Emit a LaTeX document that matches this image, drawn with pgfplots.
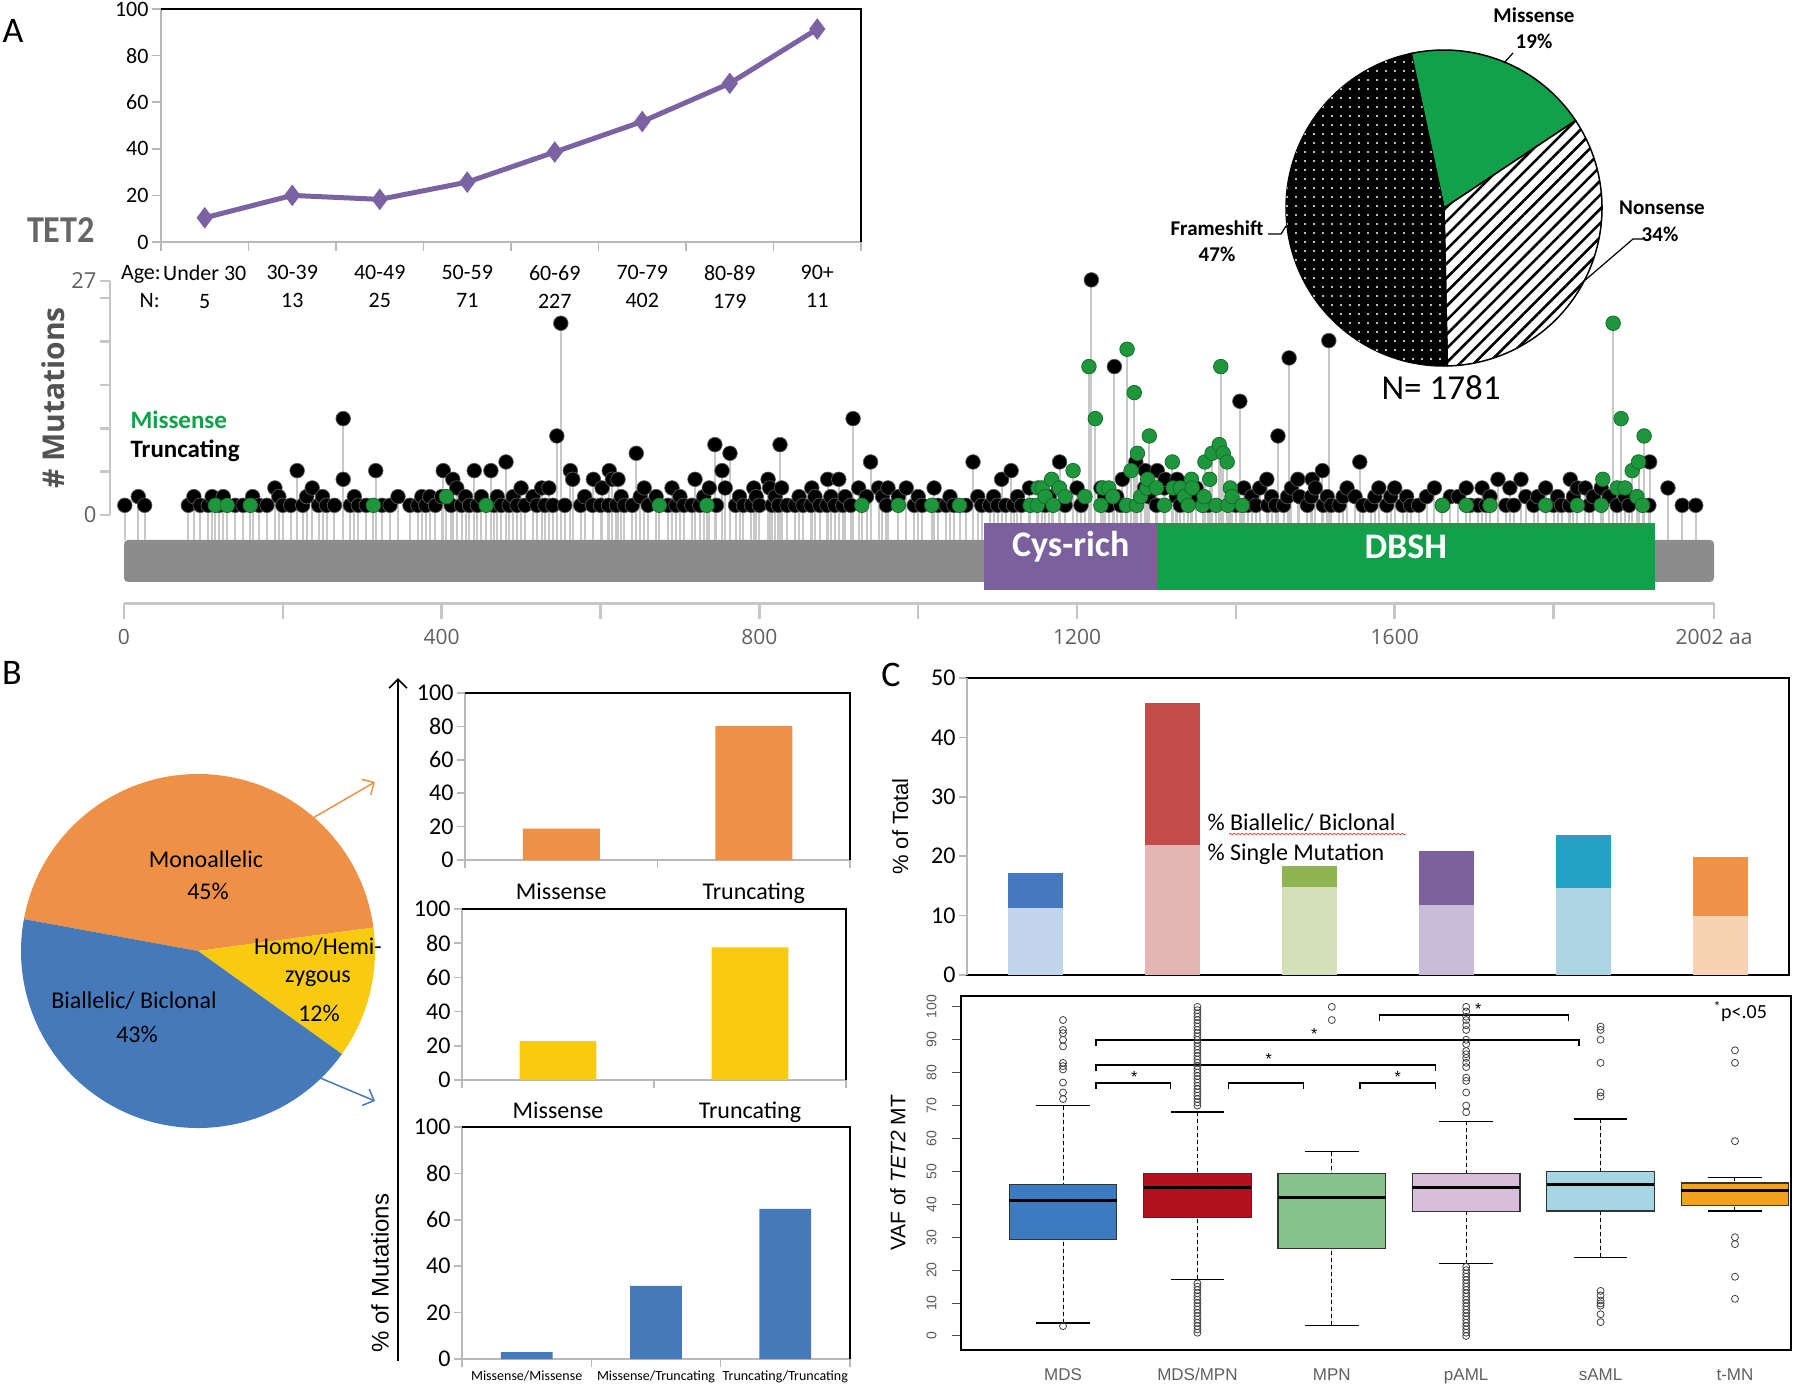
\documentclass[border=0pt]{standalone}
\usepackage{fontspec}
\setmainfont{Carlito}
\newfontfamily\arial{Liberation Sans}
\newfontfamily\osans{Open Sans}
\usepackage{pgfplots}
\usepackage{pgfplotstable}
\pgfplotsset{compat=1.18}
\usepgfplotslibrary{statistics}
\usetikzlibrary{patterns.meta,arrows.meta,decorations.pathmorphing}
\newcommand\fs[1]{\fontsize{#1}{#1}\selectfont}

\definecolor{lpurple}{RGB}{122,98,163}
\definecolor{pgreen}{RGB}{18,160,74}
\definecolor{dompurple}{RGB}{123,96,158}
\definecolor{bargray}{RGB}{140,140,140}
\definecolor{stemgray}{RGB}{200,200,200}
\definecolor{ballgreen}{RGB}{30,150,60}
\definecolor{bor}{RGB}{238,145,70}
\definecolor{byel}{RGB}{249,203,16}
\definecolor{bblue}{RGB}{70,121,186}
\definecolor{mdsL}{RGB}{195,213,236}\definecolor{mdsD}{RGB}{70,120,189}
\definecolor{mpmL}{RGB}{228,181,181}\definecolor{mpmD}{RGB}{196,77,75}
\definecolor{mpnL}{RGB}{211,224,184}\definecolor{mpnD}{RGB}{143,181,83}
\definecolor{pamlL}{RGB}{201,188,216}\definecolor{pamlD}{RGB}{125,97,154}
\definecolor{samlL}{RGB}{172,212,226}\definecolor{samlD}{RGB}{34,163,196}
\definecolor{tmnL}{RGB}{247,211,179}\definecolor{tmnD}{RGB}{238,147,71}
\definecolor{bMDS}{RGB}{61,123,192}\definecolor{bMPM}{RGB}{178,18,30}
\definecolor{bMPN}{RGB}{135,196,140}\definecolor{bPAML}{RGB}{216,190,216}
\definecolor{bSAML}{RGB}{166,213,228}\definecolor{bTMN}{RGB}{241,163,27}

\pgfplotsset{every axis/.append style={/pgf/number format/assume math mode=true}}

\pgfplotstableread{
x c
1 1
18 2
26 1
81 1
88 2
96 1
106 1
111 2
120 1
125 2
140 1
150 1
162 2
170 1
180 1
190 3
195 2
200 1
210 1
218 5
225 1
230 2
237 3
245 1
250 2
255 1
265 1
276 11
276 4
285 1
290 2
295 1
305 1
317 5
325 1
335 1
345 2
360 1
370 1
375 2
380 1
385 2
392 1
400 2
402 5
412 1
414 4
419 3
425 1
430 2
435 1
441 5
445 1
450 2
462 5
466 1
470 2
475 1
481 6
485 1
490 2
495 1
500 3
505 1
515 2
520 1
526 3
530 1
535 3
540 1
545 9
550 22
555 1
562 5
565 4
575 1
580 2
590 1
591 4
600 1
602 3
610 1
611 5
615 4
620 1
622 4
626 2
630 1
640 1
645 7
650 2
655 3
660 1
670 2
685 1
690 3
695 1
700 2
705 1
715 1
719 4
725 1
730 2
737 3
744 8
746 1
753 5
757 3
763 7
770 1
775 2
780 1
790 1
793 3
796 2
800 1
811 4
813 3
816 1
820 2
824 1
826 8
828 3
835 1
845 1
850 2
855 1
865 1
866 3
870 2
876 1
885 1
886 4
890 2
895 1
900 4
905 1
908 2
915 1
918 11
925 3
935 2
940 6
950 3
955 2
960 1
962 3
975 2
985 3
995 1
1000 2
1005 1
1020 3
1025 1
1035 1
1040 2
1045 1
1060 1
1069 6
1075 2
1080 1
1090 1
1095 2
1100 1
1105 4
1110 1
1117 5
1120 1
1125 2
1130 1
1140 3
1160 1
1165 2
1177 3
1178 6
1185 1
1200 3
1205 1
1218 27
1230 3
1235 2
1240 1
1247 17
1250 2
1255 1
1257 4
1274 6
1285 3
1286 5
1290 2
1300 1
1301 5
1310 3
1311 4
1325 2
1326 4
1330 1
1345 2
1350 3
1365 1
1400 1
1405 13
1410 3
1415 1
1420 2
1425 1
1430 3
1439 4
1440 1
1445 2
1450 1
1453 9
1460 1
1465 2
1467 18
1470 3
1478 4
1480 2
1490 1
1495 2
1496 4
1500 3
1509 5
1510 1
1515 2
1517 20
1520 1
1530 1
1535 2
1540 3
1550 2
1556 6
1560 1
1570 1
1575 2
1580 3
1590 1
1595 2
1600 3
1610 1
1615 2
1620 1
1630 1
1640 2
1650 3
1660 1
1670 2
1680 2
1690 3
1695 1
1705 1
1710 3
1715 1
1720 2
1730 4
1740 1
1745 3
1750 1
1759 4
1765 2
1775 1
1780 2
1790 3
1800 1
1805 2
1810 1
1820 1
1821 4
1825 2
1830 3
1840 3
1845 1
1850 2
1860 3
1870 2
1880 1
1890 2
1895 1
1920 1
1921 6
1944 3
1962 1
1979 1
}\blk

\pgfplotstableread{
x c
115 1
130 1
159 1
314 1
406 2
456 1
674 1
734 1
929 1
975 1
1017 1
1052 1
1141 1
1150 1
1151 3
1156 3
1160 2
1168 4
1170 1
1178 3
1185 2
1195 5
1210 2
1215 17
1223 11
1230 1
1233 3
1240 3
1245 2
1262 1
1263 19
1268 5
1272 14
1275 1
1276 7
1280 2
1288 3
1289 4
1291 9
1300 3
1310 1
1320 6
1321 3
1330 3
1335 2
1340 1
1344 4
1345 3
1358 1
1360 2
1361 6
1367 4
1370 7
1375 1
1379 8
1381 17
1384 7
1389 6
1390 1
1393 3
1395 2
1408 1
1660 1
1690 1
1720 1
1790 1
1830 1
1860 1
1862 4
1875 22
1880 3
1885 11
1890 3
1899 5
1905 2
1907 6
1912 1
1914 9
}\grn

\begin{document}
\begin{tikzpicture}
\path[use as bounding box] (0pt,0pt) rectangle (1800pt,-1385pt);

% ---------- Panel A: lollipop y axis ----------
\begin{axis}[scale only axis, anchor=south west, at={(110pt,-515pt)},
  width=1pt, height=234.1pt, xmin=0, xmax=1, ymin=0, ymax=27,
  axis x line=none, axis y line=left,
  y axis line style={-, draw=gray!45, line width=2.5pt},
  ytick={0,5,10,15,20,25,27}, yticklabels={0,,,,,,27},
  tick align=outside, major tick length=10pt,
  y tick style={draw=gray!45, line width=2.5pt},
  yticklabel style={font=\osans\fs{22}, text=gray!75!black},
  ylabel={\# Mutations},
  ylabel style={font=\osans\bfseries\fs{30}, text=gray!65!black}]
\end{axis}

% ---------- Panel A: lollipop ----------
\begin{axis}[scale only axis, anchor=south west, at={(124pt,-603pt)},
  width=1590pt, height=323.1pt, xmin=0, xmax=2002, ymin=-7.27, ymax=30,
  axis x line*=bottom, axis y line=none,
  x axis line style={-, draw=gray!45, line width=3pt},
  xtick={0,400,800,1200,1600,2002}, xticklabels={0,400,800,1200,1600,2002 aa},
  minor xtick={200,600,1000,1400,1800},
  tick align=outside, major tick length=16pt, minor tick length=16pt,
  x tick style={draw=gray!45, line width=2.5pt},
  xticklabel style={font=\osans\fs{21}, text=gray!75!black, yshift=-7pt},
  clip=false]
\fill[bargray, rounded corners=4pt] (axis cs:0,0) rectangle (axis cs:2002,-4.84);
\addplot[ycomb, draw=stemgray, line width=2pt, mark=none] table[x=x, y expr=\thisrow{c}+3] \blk;
\addplot[ycomb, draw=stemgray, line width=2pt, mark=none] table[x=x, y expr=\thisrow{c}+3] \grn;
\fill[dompurple] (axis cs:1083,1.96) rectangle (axis cs:1301,-5.77);
\fill[pgreen] (axis cs:1301,1.96) rectangle (axis cs:1928,-5.77);
\node[font=\bfseries\fs{36}, text=white] at (axis cs:1192,-0.8) {Cys-rich};
\node[font=\bfseries\fs{36}, text=white] at (axis cs:1614,-0.8) {DBSH};
\addplot[only marks, mark=*, mark size=7.3pt, mark options={fill=black, draw=gray!70!black, line width=0.7pt}] table[x=x, y expr=\thisrow{c}+3] \blk;
\addplot[only marks, mark=*, mark size=7.3pt, mark options={fill=ballgreen, draw=ballgreen!70!black, line width=0.7pt}] table[x=x, y expr=\thisrow{c}+3] \grn;
\end{axis}
\node[anchor=west, font=\bfseries\fs{25}, text=pgreen] at (127pt,-420pt) {Missense};
\node[anchor=west, font=\bfseries\fs{25}] at (127pt,-451pt) {Truncating};
\node[font=\bfseries\fs{38}, text=gray!80!black, xscale=0.9] at (61pt,-230pt) {TET2};

% ---------- Panel A: age line chart ----------
\begin{axis}[scale only axis, anchor=south west, at={(161pt,-242pt)},
  width=700pt, height=233pt, xmin=0.5, xmax=8.5, ymin=0, ymax=100,
  axis line style={draw=gray!55, line width=1.6pt},
  xtick={0.5,1.5,...,8.5}, xticklabels={},
  extra x ticks={1,2,3,4,5,6,7,8},
  extra x tick labels={{Under 30\\5},{30-39\\13},{40-49\\25},{50-59\\71},{60-69\\227},{70-79\\402},{80-89\\179},{90+\\11}},
  extra x tick style={tick style={draw=none}},
  xticklabel style={align=center, font=\fontsize{22}{28}\selectfont, yshift=-11pt},
  ytick={0,20,...,100}, yticklabel style={font=\fs{22}},
  tick align=outside, xtick pos=bottom, ytick pos=left,
  major tick length=9pt,
  tick style={draw=gray!55, line width=1.6pt},
  clip=false]
\addplot[color=lpurple, line width=5pt, mark=diamond*, mark size=10pt, mark options={fill=lpurple, line width=1pt}]
  coordinates {(1,10.4) (2,20.0) (3,18.3) (4,25.7) (5,38.6) (6,51.7) (7,68.1) (8,91.4)};
\draw[black, line width=1.8pt] (rel axis cs:0,1) -- (rel axis cs:1,1) -- (rel axis cs:1,0);
\end{axis}
\node[anchor=base east, font=\fs{22}, inner sep=0pt] at (161pt,-279pt) {Age:};
\node[anchor=base east, font=\fs{22}, inner sep=0pt] at (160pt,-307pt) {N:};

% ---------- Panel A: pie ----------
\pgfmathsetmacro\aA{102}
\pgfmathsetmacro\aB{\aA-19*3.6}
\pgfmathsetmacro\aC{\aB-34*3.6}
\pgfmathsetmacro\aD{\aC-47*3.6}
\begin{axis}[scale only axis, anchor=south west, at={(1286pt,-366pt)},
  width=316pt, height=316pt, xmin=-1, xmax=1, ymin=-1, ymax=1, hide axis, clip=false]
\draw[fill=pgreen, line width=1.5pt] (axis cs:0,0) -- ++(\aA:158pt) arc[start angle=\aA, end angle=\aB, radius=158pt] -- cycle;
\draw[fill=white, postaction={pattern={Lines[angle=45,distance=10pt,line width=2.6pt]}, pattern color=black}, line width=1.5pt]
  (axis cs:0,0) -- ++(\aB:158pt) arc[start angle=\aB, end angle=\aC, radius=158pt] -- cycle;
\draw[fill=black, postaction={pattern={Dots[distance=9pt,radius=1.2pt]}, pattern color=white}, line width=1.5pt]
  (axis cs:0,0) -- ++(\aC:158pt) arc[start angle=\aC, end angle=\aD, radius=158pt] -- cycle;
\end{axis}
\node[font=\bfseries\fs{21}] at (1534pt,-15pt) {Missense};
\node[font=\bfseries\fs{21}] at (1534pt,-41pt) {19\%};
\draw[line width=1.2pt] (1513pt,-53pt) -- (1504pt,-63pt);
\node[font=\bfseries\fs{21}] at (1662pt,-208pt) {Nonsense};
\node[font=\bfseries\fs{21}] at (1660pt,-234pt) {34\%};
\draw[line width=1.2pt] (1643pt,-239pt) -- (1633pt,-239pt) -- (1583pt,-282pt);
\node[font=\bfseries\fs{21}] at (1217pt,-228pt) {Frameshift};
\node[font=\bfseries\fs{21}] at (1217pt,-254pt) {47\%};
\draw[line width=1.2pt] (1268pt,-234pt) -- (1281pt,-234pt) -- (1286pt,-226pt);
\node[font=\fs{35}] at (1441pt,-388pt) {N= 1781};

% ---------- Panel B: pie ----------
\pgfmathsetmacro\bA{169.6}
\pgfmathsetmacro\bB{\bA-45*3.6}
\pgfmathsetmacro\bC{\bB-12*3.6}
\pgfmathsetmacro\bD{\bC-43*3.6}
\begin{axis}[scale only axis, anchor=south west, at={(21pt,-1128pt)},
  width=354pt, height=354pt, xmin=-1, xmax=1, ymin=-1, ymax=1, hide axis, clip=false]
\fill[bor] (axis cs:0,0) -- ++(\bA:177pt) arc[start angle=\bA, end angle=\bB, radius=177pt] -- cycle;
\fill[byel] (axis cs:0,0) -- ++(\bB:177pt) arc[start angle=\bB, end angle=\bC, radius=177pt] -- cycle;
\fill[bblue] (axis cs:0,0) -- ++(\bC:177pt) arc[start angle=\bC, end angle=\bD, radius=177pt] -- cycle;
\end{axis}
\node[font=\fs{24}] at (206pt,-859pt) {Monoallelic};
\node[font=\fs{24}] at (208pt,-891pt) {45\%};
\node[font=\fs{24}] at (318pt,-947pt) {Homo/Hemi-};
\node[font=\fs{24}] at (318pt,-979pt) {zygous};
\node[font=\fs{24}] at (319pt,-1013pt) {12\%};
\node[font=\fs{24}] at (134pt,-1001pt) {Biallelic/ Biclonal};
\node[font=\fs{24}] at (137pt,-1034pt) {43\%};
\draw[bor, line width=1.5pt, -{Straight Barb[length=9pt,width=18pt]}] (287pt,-833pt) -- (375pt,-782pt);
\draw[bblue, line width=1.5pt, -{Straight Barb[length=9pt,width=18pt]}] (287pt,-1064pt) -- (375pt,-1101pt);
\draw[black, line width=1.6pt, -{Straight Barb[length=9pt,width=18pt]}] (398pt,-1361pt) -- (398pt,-678pt);
\node[rotate=90, font=\arial\fs{24}] at (380pt,-1273pt) {\% of Mutations};

% ---------- Panel B: bar charts ----------
\pgfplotsset{bstyle/.style={scale only axis, anchor=south west, ymin=0, ymax=100,
  ytick={0,20,...,100}, yticklabel style={font=\fs{24}},
  axis line style={draw=gray!55, line width=1.5pt},
  tick align=outside, xtick pos=bottom, ytick pos=left, major tick length=8pt,
  tick style={draw=gray!55, line width=1.5pt},
  xticklabels={}, extra x tick style={tick style={draw=none}}, clip=false}}
\begin{axis}[bstyle, at={(465pt,-860pt)}, width=385pt, height=167pt, xmin=0.5, xmax=2.5,
  xtick={0.5,1.5,2.5}, extra x ticks={1,2}, extra x tick labels={Missense,Truncating},
  xticklabel style={font=\fs{24}, yshift=-11pt}]
\addplot[ybar, bar width=0.4, fill=bor, draw=none] coordinates {(1,18.8) (2,80.1)};
\draw[black, line width=1.8pt] (rel axis cs:0,1) -- (rel axis cs:1,1) -- (rel axis cs:1,0);
\end{axis}
\begin{axis}[bstyle, at={(462pt,-1080pt)}, width=384pt, height=171pt, xmin=0.5, xmax=2.5,
  xtick={0.5,1.5,2.5}, extra x ticks={1,2}, extra x tick labels={Missense,Truncating},
  xticklabel style={font=\fs{24}, yshift=-10pt}]
\addplot[ybar, bar width=0.4, fill=byel, draw=none] coordinates {(1,22.7) (2,77.6)};
\draw[black, line width=1.8pt] (rel axis cs:0,1) -- (rel axis cs:1,1) -- (rel axis cs:1,0);
\end{axis}
\begin{axis}[bstyle, at={(462pt,-1359pt)}, width=388pt, height=232pt, xmin=0.5, xmax=3.5,
  xtick={0.5,1.5,2.5,3.5}, extra x ticks={1,2,3},
  extra x tick labels={Missense/Missense,Missense/Truncating,Truncating/Truncating},
  xticklabel style={font=\fs{14}, yshift=0pt}]
\addplot[ybar, bar width=0.4, fill=bblue, draw=none] coordinates {(1,3.0) (2,31.5) (3,64.7)};
\draw[black, line width=1.8pt] (rel axis cs:0,1) -- (rel axis cs:1,1) -- (rel axis cs:1,0);
\end{axis}

% ---------- Panel C: stacked bars ----------
\begin{axis}[scale only axis, anchor=south west, at={(967pt,-975pt)}, width=822pt, height=297pt,
  xmin=0.5, xmax=6.5, ymin=0, ymax=50, xtick=\empty,
  ytick={0,10,...,50}, yticklabel style={font=\fs{24}},
  axis line style={draw=black, line width=1.8pt},
  tick align=outside, ytick pos=left, major tick length=8pt,
  tick style={draw=gray!55, line width=1.5pt},
  ylabel={\% of Total}, ylabel style={font=\arial\fs{22}, yshift=16pt},
  clip=false]
\addplot[ybar, bar width=0.4, fill=mdsD, draw=none] coordinates {(1,17.2)};
\addplot[ybar, bar width=0.4, fill=mdsL, draw=none] coordinates {(1,11.35)};
\addplot[ybar, bar width=0.4, fill=mpmD, draw=none] coordinates {(2,45.8)};
\addplot[ybar, bar width=0.4, fill=mpmL, draw=none] coordinates {(2,21.85)};
\addplot[ybar, bar width=0.4, fill=mpnD, draw=none] coordinates {(3,18.4)};
\addplot[ybar, bar width=0.4, fill=mpnL, draw=none] coordinates {(3,14.8)};
\addplot[ybar, bar width=0.4, fill=pamlD, draw=none] coordinates {(4,20.8)};
\addplot[ybar, bar width=0.4, fill=pamlL, draw=none] coordinates {(4,11.8)};
\addplot[ybar, bar width=0.4, fill=samlD, draw=none] coordinates {(5,23.6)};
\addplot[ybar, bar width=0.4, fill=samlL, draw=none] coordinates {(5,14.7)};
\addplot[ybar, bar width=0.4, fill=tmnD, draw=none] coordinates {(6,19.8)};
\addplot[ybar, bar width=0.4, fill=tmnL, draw=none] coordinates {(6,9.9)};
\draw[gray!55, line width=1.8pt] (rel axis cs:0,0) -- (rel axis cs:0,1);
\end{axis}
\node[anchor=west, font=\fs{24}] at (1204pt,-823pt) {\% Biallelic/ Biclonal};
\node[anchor=west, font=\fs{24}] at (1204pt,-854pt) {\% Single Mutation};
\draw[red!80, line width=0.8pt, decorate, decoration={snake, amplitude=0.7pt, segment length=4pt}] (1229pt,-834pt) -- (1406pt,-834pt);

% ---------- Panel C: boxplots ----------
\begin{axis}[scale only axis, anchor=south west, at={(961pt,-1350pt)}, width=830pt, height=354pt,
  xmin=0.241, xmax=6.417, ymin=-4.26, ymax=103.3,
  axis line style={draw=black, line width=2pt},
  xtick={1,...,6}, xticklabels={MDS,MDS/MPN,MPN,pAML,sAML,t-MN},
  xticklabel style={font=\arial\fs{17}, text=gray!75!black, yshift=-6pt},
  x tick style={draw=none},
  ytick={0,10,...,100}, yticklabel style={rotate=90, font=\arial\fs{14}, text=gray!70!black},
  yticklabel shift=12pt,
  ytick pos=left, tick align=outside, major tick length=9pt,
  y tick style={draw=gray!60!black, line width=1pt},
  ylabel={VAF of \textit{TET2} MT}, ylabel style={font=\arial\fs{21}, yshift=14pt},
  boxplot/draw direction=y,
  boxplot/box extend=0.8, boxplot/whisker extend=0.4,
  boxplot/every median/.style={line width=3pt, draw=black},
  /pgfplots/boxplot/draw/lower whisker/.code={%
    \draw[black, line width=1pt, dash pattern=on 4pt off 3pt] (boxplot box cs:\pgfplotsboxplotvalue{lower whisker},0.5) -- (boxplot box cs:\pgfplotsboxplotvalue{lower quartile},0.5);
    \draw[black, line width=1.4pt] (boxplot whisker cs:\pgfplotsboxplotvalue{lower whisker},0) -- (boxplot whisker cs:\pgfplotsboxplotvalue{lower whisker},1);},
  /pgfplots/boxplot/draw/upper whisker/.code={%
    \draw[black, line width=1pt, dash pattern=on 4pt off 3pt] (boxplot box cs:\pgfplotsboxplotvalue{upper whisker},0.5) -- (boxplot box cs:\pgfplotsboxplotvalue{upper quartile},0.5);
    \draw[black, line width=1.4pt] (boxplot whisker cs:\pgfplotsboxplotvalue{upper whisker},0) -- (boxplot whisker cs:\pgfplotsboxplotvalue{upper whisker},1);},
  outl/.style={mark=o, mark size=3.5pt, mark options={draw=black!75, fill=none, line width=0.8pt}},
  clip=false]
\addplot[boxplot prepared={draw position=1, lower whisker=4, lower quartile=29.2, median=41.1, upper quartile=46.1, upper whisker=70},
  boxplot/draw direction=y, fill=bMDS, draw=gray!40!black, line width=1.2pt, outl]
  table[row sep=\\, y index=0] {v\\ 3\\ 72\\ 74\\ 77\\ 81\\ 82\\ 83\\ 88\\ 90\\ 92\\ 93\\ 96\\};
\addplot[boxplot prepared={draw position=2, lower whisker=17.2, lower quartile=35.9, median=45.2, upper quartile=49.3, upper whisker=68},
  boxplot/draw direction=y, fill=bMPM, draw=gray!40!black, line width=1.2pt, outl]
  table[row sep=\\, y index=0] {v\\ 1\\ 2\\ 3\\ 4\\ 5\\ 6\\ 7\\ 8\\ 9\\ 10\\ 11\\ 12\\ 13\\ 14\\ 15\\ 16\\ 70\\ 71\\ 72\\ 73\\ 74\\ 75\\ 76\\ 77\\ 78\\ 79\\ 80\\ 81\\ 82\\ 83\\ 84\\ 85\\ 86\\ 87\\ 88\\ 89\\ 90\\ 91\\ 92\\ 93\\ 94\\ 95\\ 96\\ 97\\ 98\\ 99\\ 100\\};
\addplot[boxplot prepared={draw position=3, lower whisker=3.2, lower quartile=26.5, median=42, upper quartile=49.3, upper whisker=56},
  boxplot/draw direction=y, fill=bMPN, draw=gray!40!black, line width=1.2pt, outl]
  table[row sep=\\, y index=0] {v\\ 96\\ 100\\};
\addplot[boxplot prepared={draw position=4, lower whisker=22, lower quartile=37.9, median=45, upper quartile=49.3, upper whisker=65.2},
  boxplot/draw direction=y, fill=bPAML, draw=gray!40!black, line width=1.2pt, outl]
  table[row sep=\\, y index=0] {v\\ 0\\ 1\\ 2\\ 3\\ 4\\ 5\\ 6\\ 7\\ 8\\ 9\\ 10\\ 11\\ 12\\ 13\\ 14\\ 15\\ 16\\ 17\\ 18\\ 19\\ 20\\ 21\\ 68\\ 70\\ 74\\ 77.5\\ 78.5\\ 81.7\\ 83\\ 84.5\\ 85.6\\ 86.6\\ 88.7\\ 90\\ 93\\ 94.4\\ 96\\ 97\\ 98.6\\ 100\\};
\addplot[boxplot prepared={draw position=5, lower whisker=23.9, lower quartile=38, median=46, upper quartile=50, upper whisker=65.9},
  boxplot/draw direction=y, fill=bSAML, draw=gray!40!black, line width=1.2pt, outl]
  table[row sep=\\, y index=0] {v\\ 4.2\\ 6.6\\ 9.2\\ 9.9\\ 10.8\\ 12.3\\ 13.7\\ 72.8\\ 74\\ 83\\ 90\\ 93\\ 94\\};
\addplot[boxplot prepared={draw position=6, lower whisker=38, lower quartile=39.7, median=44.1, upper quartile=46.5, upper whisker=48.2},
  boxplot/draw direction=y, fill=bTMN, draw=gray!40!black, line width=1.2pt, outl]
  table[row sep=\\, y index=0] {v\\ 11.3\\ 18\\ 27.9\\ 30\\ 59.2\\ 83\\ 86.8\\};
% significance brackets
\addplot[black, line width=1.5pt] coordinates {(1.245,75) (1.245,76.8) (1.80,76.8) (1.80,75)};
\addplot[black, line width=1.5pt] coordinates {(2.23,75) (2.23,76.8) (2.79,76.8) (2.79,75)};
\addplot[black, line width=1.5pt] coordinates {(3.21,75) (3.21,76.8) (3.77,76.8) (3.77,75)};
\addplot[black, line width=1.5pt] coordinates {(1.245,80.5) (1.245,82.3) (3.77,82.3) (3.77,80.5)};
\addplot[black, line width=1.5pt] coordinates {(1.245,88.2) (1.245,90) (4.84,90) (4.84,88.2)};
\addplot[black, line width=1.5pt] coordinates {(3.355,95.7) (3.355,97.5) (4.76,97.5) (4.76,95.7)};
\node[font=\arial\fs{16}] at (axis cs:1.53,78.6) {*};
\node[font=\arial\fs{16}] at (axis cs:3.49,78.6) {*};
\node[font=\arial\fs{16}] at (axis cs:2.53,84.2) {*};
\node[font=\arial\fs{16}] at (axis cs:2.87,91.9) {*};
\node[font=\arial\fs{16}] at (axis cs:4.09,99.3) {*};
\node[font=\fs{20}] at (axis cs:6.04,98.6) {\textsuperscript{*}p<.05};
\end{axis}

% ---------- Panel letters ----------
\node[font=\fs{36}] at (13pt,-31pt) {A};
\node[font=\fs{36}] at (12pt,-673pt) {B};
\node[font=\fs{36}] at (891pt,-675pt) {C};
\end{tikzpicture}
\end{document}
